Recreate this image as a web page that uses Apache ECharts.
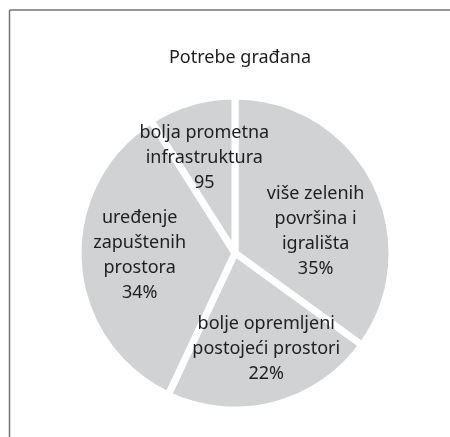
<!DOCTYPE html>
<html>
<head>
<meta charset="utf-8">
<script src="https://cdn.jsdelivr.net/npm/echarts@6/dist/echarts.min.js"></script>
<style>
html,body{margin:0;padding:0;background:#fff;}
#chart{width:450px;height:437px;}
</style>
</head>
<body>
<div id="chart"></div>
<script>
var categories = ['više zelenih\npovršina i\nigrališta', 'bolje opremljeni\npostojeći prostori', 'uređenje\nzapuštenih\nprostora', 'bolja prometna\ninfrastruktura'];
var values = [35, 22, 34, 9];
var valueLabels = ['35%', '22%', '34%', '95'];
var labelOffsets = [[8, 15], [11, 17], [-14, -3], [-8, -17]];

var chart = echarts.init(document.getElementById('chart'), null, {renderer: 'canvas'});
var fontFamily = '"Noto Sans", "Open Sans", sans-serif';
chart.setOption({
  animation: false,
  backgroundColor: '#ffffff',
  title: {
    text: 'Potrebe građana',
    left: 235,
    textAlign: 'center',
    top: 44,
    textStyle: {fontFamily: fontFamily, fontSize: 18, fontWeight: 'normal', color: '#1e1e1e'}
  },
  graphic: [
    {type: 'line', shape: {x1: 9.5, y1: 10, x2: 450, y2: 10}, style: {stroke: '#747474', lineWidth: 1.5}},
    {type: 'line', shape: {x1: 9.5, y1: 10, x2: 9.5, y2: 437}, style: {stroke: '#747474', lineWidth: 1.5}}
  ],
  series: [{
    type: 'pie',
    center: [235, 253],
    radius: [0, 157],
    startAngle: 90,
    clockwise: true,
    avoidLabelOverlap: false,
    minShowLabelAngle: 0,
    itemStyle: {color: '#d1d2d4', borderColor: '#ffffff', borderWidth: 7},
    emphasis: {disabled: true},
    labelLayout: {hideOverlap: false},
    label: {
      show: true,
      position: 'inside',
      fontFamily: fontFamily,
      fontSize: 18,
      lineHeight: 25,
      color: '#1e1e1e',
      align: 'center'
    },
    labelLine: {show: false},
    data: categories.map(function (c, i) {
      return {
        name: c,
        value: values[i],
        label: {formatter: c + '\n' + valueLabels[i], offset: labelOffsets[i]}
      };
    })
  }]
});
</script>
</body>
</html>
